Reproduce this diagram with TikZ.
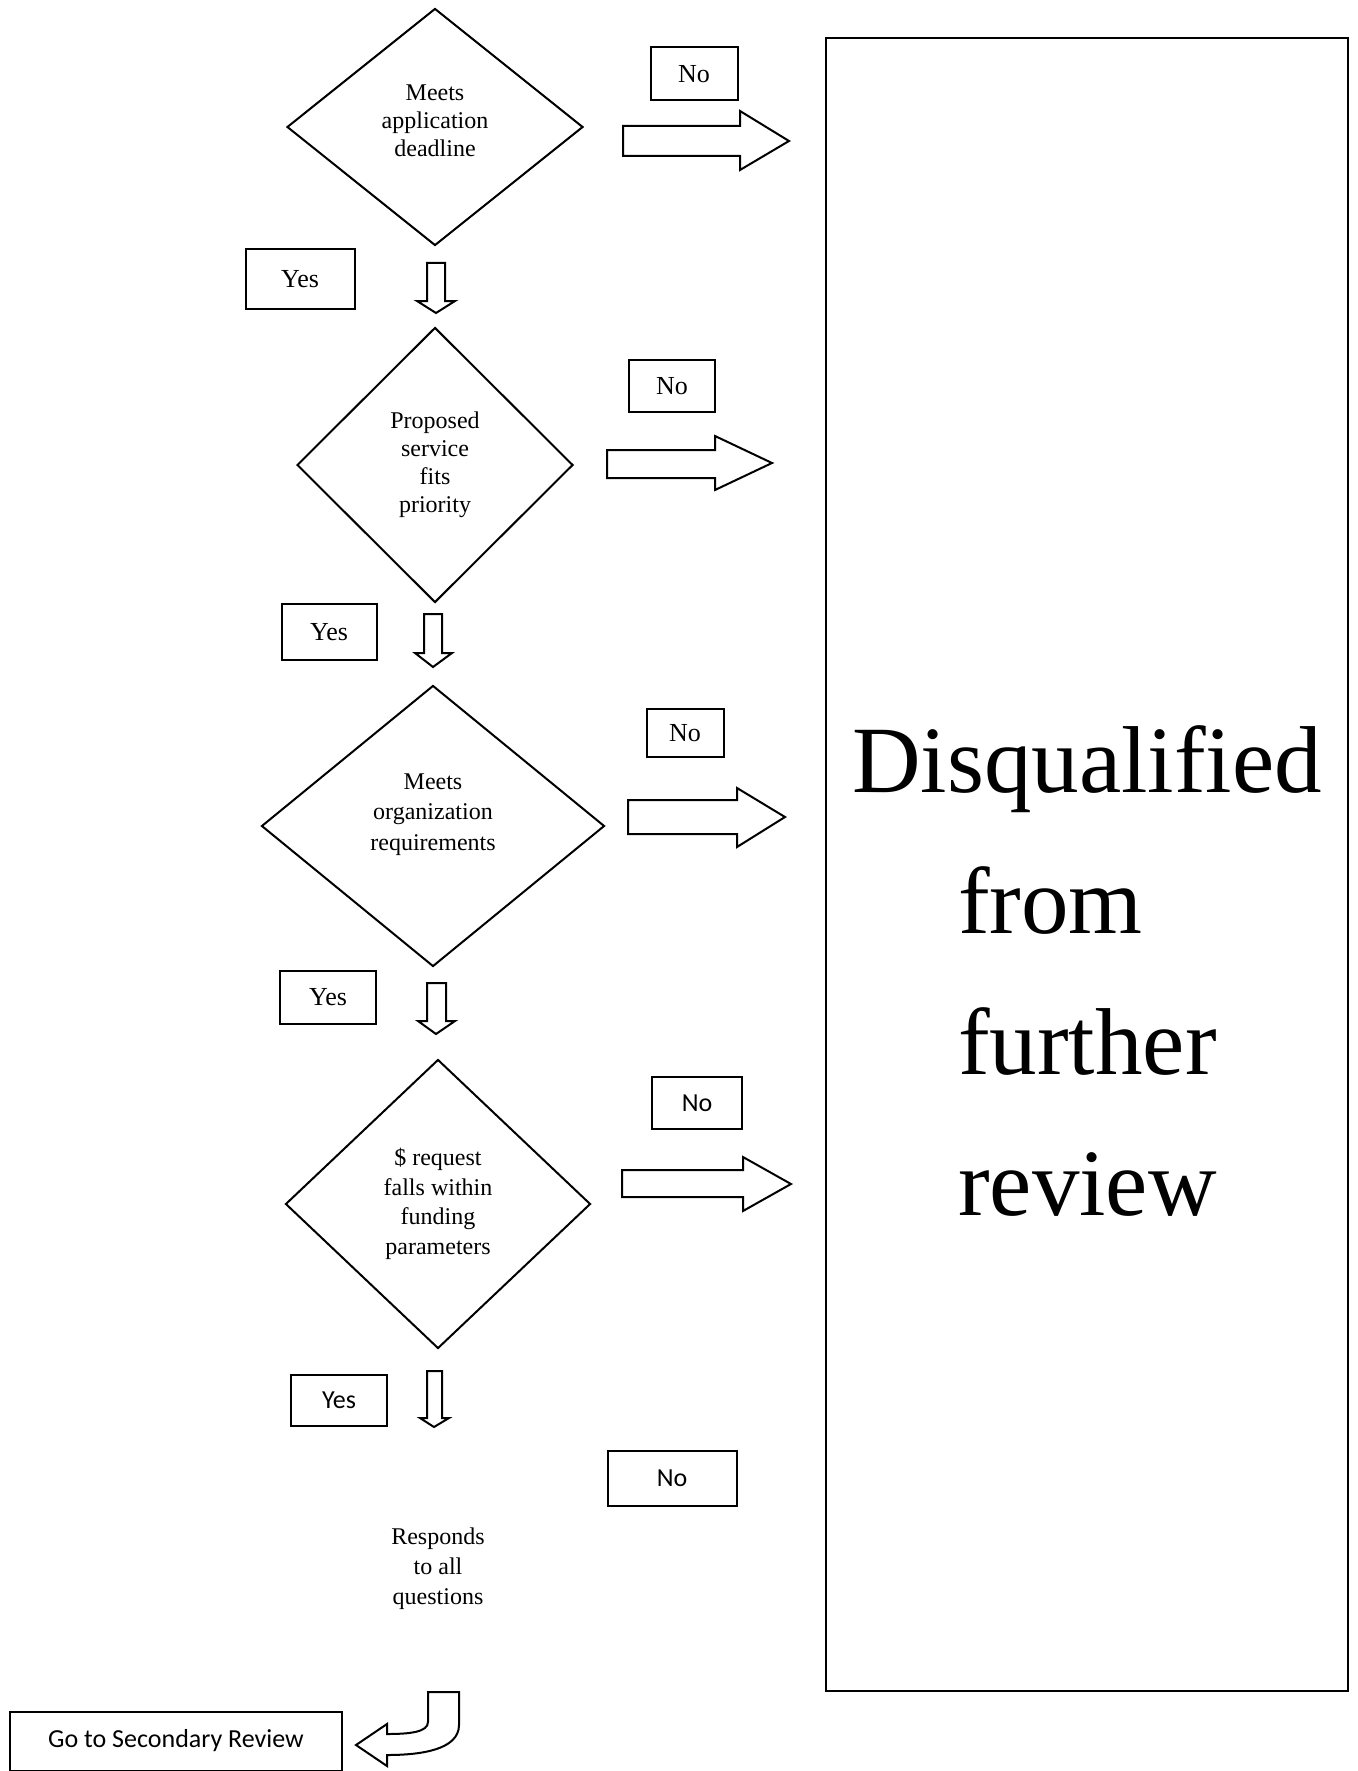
\documentclass[tikz,border=0pt]{standalone}
\usepackage{fontspec}
\setmainfont{Liberation Serif}
\newfontfamily\calibrifont{Carlito}
\usetikzlibrary{shapes.geometric}
\tikzset{
	decision/.style={diamond,draw,line width=2pt,inner sep=0pt,align=center,font=\fontsize{24}{28}\selectfont},
	answer/.style={draw,line width=2pt,inner sep=0pt,font=\fontsize{26}{30}\selectfont},
	answersans/.style={answer,font=\calibrifont\fontsize{26}{30}\selectfont},
	blockarrow/.style={draw,line width=2pt,line join=miter}
}
\begin{document}
\begin{tikzpicture}[x=1pt,y=-1pt]
	\useasboundingbox (0,0) rectangle (1357,1771);
	\draw (435,127) node[decision,minimum width=296,minimum height=237,text depth=12pt] (d1) {Meets\\application\\deadline};
	\draw (435,465) node[decision,minimum width=276,minimum height=275] (d2) {Proposed\\service\\fits\\priority};
	\draw (433,826) node[decision,minimum width=343,minimum height=281,text depth=28pt,font=\fontsize{24}{30.5}\selectfont] (d3) {Meets\\organization\\requirements};
	\draw (438,1204) node[decision,minimum width=305,minimum height=289,font=\fontsize{24}{29.5}\selectfont] (d4) {\$ request\\falls within\\funding\\parameters};
	\draw (438,1569) node[align=center,font=\fontsize{24}{30}\selectfont] (resp) {Responds\\to all\\questions};
	\draw (300,279) node[answer,minimum width=109,minimum height=60] (y1) {Yes};
	\draw (329,632) node[answer,minimum width=95,minimum height=56] (y2) {Yes};
	\draw (328,997) node[answer,minimum width=96,minimum height=53] (y3) {Yes};
	\draw (339,1400) node[answersans,minimum width=96,minimum height=51] (y4) {Yes};
	\draw (694,74) node[answer,minimum width=87,minimum height=53] (n1) {No};
	\draw (672,386) node[answer,minimum width=86,minimum height=52] (n2) {No};
	\draw (685,733) node[answer,minimum width=77,minimum height=48] (n3) {No};
	\draw (697,1103) node[answersans,minimum width=90,minimum height=52] (n4) {No};
	\draw (672,1478) node[answersans,minimum width=129,minimum height=55] (n5) {No};
	\draw[line width=2pt] (826,38) rectangle (1348,1691);
	\draw (852,1215) node[anchor=base west,inner sep=0pt,align=left,font=\fontsize{95}{141}\selectfont] (dq) {Disqualified\\\hspace*{106pt}from\\\hspace*{106pt}further\\\hspace*{106pt}review};
	\draw (176,1741) node[answersans,minimum width=332,minimum height=59] (sec) {Go to Secondary Review};
	\draw[blockarrow] (623,126)--(740,126)--(740,111)--(789,141)--(740,170)--(740,156)--(623,156)--cycle;
	\draw[blockarrow] (607,450)--(715,450)--(715,436)--(772,463)--(715,490)--(715,478)--(607,478)--cycle;
	\draw[blockarrow] (628,800)--(737,800)--(737,788)--(785,817)--(737,847)--(737,834)--(628,834)--cycle;
	\draw[blockarrow] (622,1170)--(743,1170)--(743,1157)--(791,1184)--(743,1211)--(743,1197)--(622,1197)--cycle;
	\draw[blockarrow] (427,263)--(445,263)--(445,301)--(455,301)--(436,313)--(417,301)--(427,301)--cycle;
	\draw[blockarrow] (424,614)--(442,614)--(442,653)--(452,653)--(433,667)--(415,653)--(424,653)--cycle;
	\draw[blockarrow] (427,983)--(446,983)--(446,1021)--(455,1021)--(436,1034)--(418,1021)--(427,1021)--cycle;
	\draw[blockarrow] (427,1371)--(442,1371)--(442,1418)--(449,1418)--(434,1427)--(420,1418)--(427,1418)--cycle;
	\draw[blockarrow] (428,1692)--(459,1692)--(459,1725) .. controls (459,1750) and (420,1755) .. (387,1755)--(387,1766)--(356,1745)--(387,1724)--(387,1734) .. controls (410,1734) and (428,1732) .. (428,1722)--cycle;
\end{tikzpicture}
\end{document}
